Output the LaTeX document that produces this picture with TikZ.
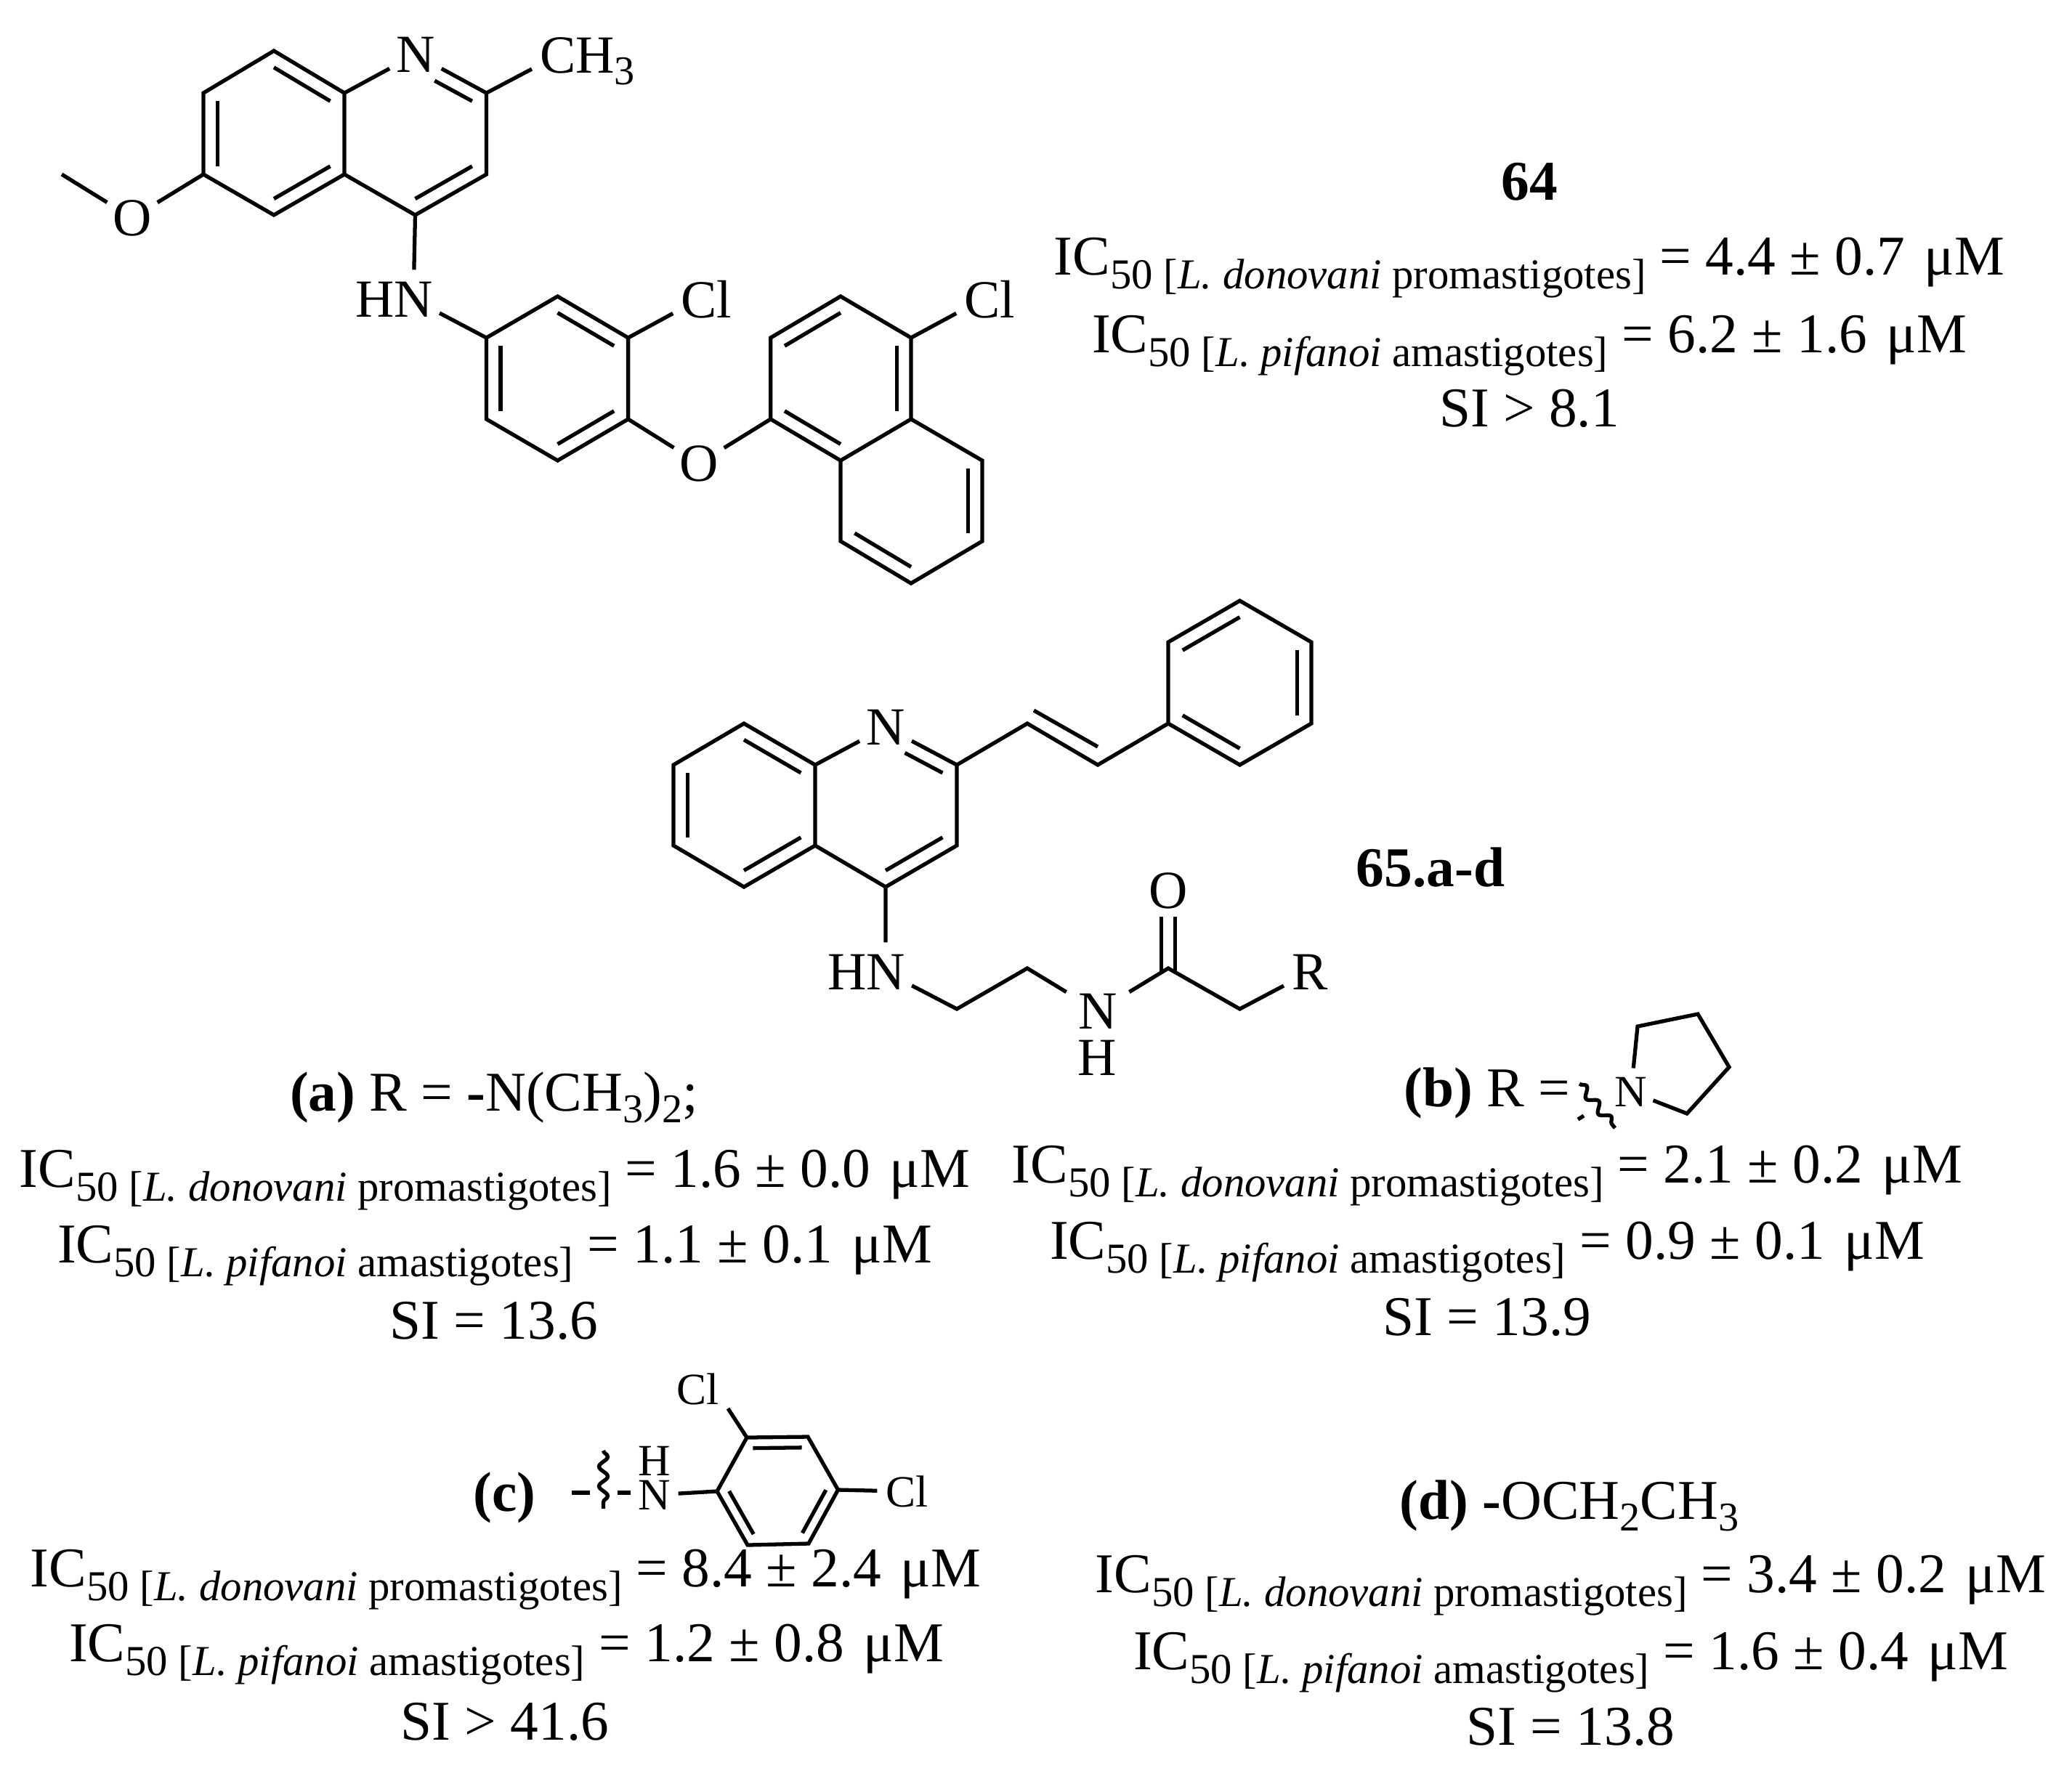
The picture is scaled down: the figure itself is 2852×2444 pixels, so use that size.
\documentclass[tikz,border=0pt]{standalone}
\usepackage{fontspec}
\setmainfont{Liberation Serif}
\usetikzlibrary{calc,decorations.pathmorphing}

\newcommand{\lo}[1]{\raisebox{-0.16cm}{\fontsize{16}{16}\selectfont #1}}
\newcommand{\sbt}[1]{\raisebox{-0.19cm}{\fontsize{16.7}{17}\selectfont #1}}
\newcommand{\don}{IC\sbt{50 [\textit{L. donovani} promastigotes]}}
\newcommand{\pif}{IC\sbt{50 [\textit{L. pifanoi} amastigotes]}}
\newcommand{\um}{\ \hspace{0.07cm}μM}
\newcommand{\innerbond}[4][]{\draw[bond,#1] ($(#2)!0.2!(#4)$) -- ($(#3)!0.2!(#4)$);}

\tikzset{
    bond/.style={line width=1.5pt},
    wavy/.style={line width=1.5pt,decorate,decoration={snake,segment length=0.27cm,amplitude=0.06cm}},
    atom/.style={circle,inner sep=0pt,minimum size=0.8cm,font=\fontsize{21}{21}\selectfont},
    smallatom/.style={circle,inner sep=0pt,minimum size=0.64cm,font=\fontsize{17.5}{18}\selectfont},
    val/.style={inner sep=0pt,anchor=base,font=\fontsize{22}{26}\selectfont},
}

\begin{document}
\begin{tikzpicture}[x=0.01cm,y=-0.01cm]
    \useasboundingbox (0,0) rectangle (2852,2444);

    % compound 64
    \coordinate (a1) at (377,70);
    \coordinate (a2) at (474,128);
    \coordinate (a3) at (474,240);
    \coordinate (a4) at (377,296);
    \coordinate (a5) at (280,240);
    \coordinate (a6) at (280,128);
    \coordinate (ca) at (377,184);
    \coordinate (b2) at (669.5,128);
    \coordinate (b3) at (669.5,240);
    \coordinate (b4) at (571.5,296);
    \coordinate (cb) at (571.5,184);
    \coordinate (me) at (85,240);
    \coordinate (c1) at (669.5,465);
    \coordinate (c2) at (767.5,408);
    \coordinate (c3) at (864.6,465);
    \coordinate (c4) at (864.6,577);
    \coordinate (c5) at (767.5,634);
    \coordinate (c6) at (669.5,577);
    \coordinate (cc) at (767.5,521);
    \coordinate (d1) at (1060.7,577);
    \coordinate (d2) at (1060.7,465);
    \coordinate (d3) at (1157,408);
    \coordinate (d4) at (1254,465);
    \coordinate (d5) at (1254,577);
    \coordinate (d6) at (1157,634);
    \coordinate (cd) at (1157,521);
    \coordinate (e1) at (1352,634);
    \coordinate (e2) at (1352,745);
    \coordinate (e3) at (1254,803);
    \coordinate (e4) at (1157,745);
    \coordinate (ce) at (1254,690);

    \node[atom] (n1) at (572,75) {N};
    \node[atom] (ch3) at (768,76) {C\rlap{\smash{H\lo{3}}}};
    \node[atom] (o1) at (182,300) {O};
    \node[atom] (n2) at (569,412) {\llap{H}N};
    \node[atom] (cl1) at (962,412) {C\rlap{l}};
    \node[atom] (o2) at (962,638) {O};
    \node[atom] (cl2) at (1352,412) {C\rlap{l}};

    \draw[bond] (a2) -- (a1) -- (a6) -- (a5) -- (a4) -- (a3) -- cycle;
    \draw[bond] (a2) -- (n1);
    \draw[bond] (a3) -- (b4) -- (b3) -- (b2) -- (n1);
    \draw[bond] (b2) -- (ch3);
    \draw[bond] (a5) -- (o1) -- (me);
    \draw[bond] (b4) -- (n2) -- (c1);
    \draw[bond] (c1) -- (c2) -- (c3) -- (c4) -- (c5) -- (c6) -- cycle;
    \draw[bond] (c3) -- (cl1);
    \draw[bond] (c4) -- (o2) -- (d1);
    \draw[bond] (d1) -- (d2) -- (d3) -- (d4) -- (d5) -- (d6) -- cycle;
    \draw[bond] (d4) -- (cl2);
    \draw[bond] (d5) -- (e1) -- (e2) -- (e3) -- (e4) -- (d6);
    \innerbond{a1}{a2}{ca}
    \innerbond{a5}{a6}{ca}
    \innerbond{a3}{a4}{ca}
    \innerbond{b3}{b4}{cb}
    \innerbond[shorten >=0.3cm]{b2}{n1}{cb}
    \innerbond{c2}{c3}{cc}
    \innerbond{c1}{c6}{cc}
    \innerbond{c4}{c5}{cc}
    \innerbond{d2}{d3}{cd}
    \innerbond{d4}{d5}{cd}
    \innerbond{d1}{d6}{cd}
    \innerbond{e1}{e2}{ce}
    \innerbond{e3}{e4}{ce}

    \node[val] (t64) at (2105,275) {\textbf{64}};
    \node[val] (t64a) at (2105,378) {\don{} = 4.4 ± 0.7\um};
    \node[val] (t64b) at (2105,485) {\pif{} = 6.2 ± 1.6\um};
    \node[val] (t64c) at (2105,587) {SI > 8.1};

    % compound 65
    \coordinate (f1) at (1024,996);
    \coordinate (f2) at (1122,1053);
    \coordinate (f3) at (1122,1164);
    \coordinate (f4) at (1024,1221);
    \coordinate (f5) at (927,1164);
    \coordinate (f6) at (927,1053);
    \coordinate (cf) at (1024,1108);
    \coordinate (g2) at (1317,1053);
    \coordinate (g3) at (1317,1164);
    \coordinate (g4) at (1219,1221);
    \coordinate (cg) at (1219,1108);
    \coordinate (v1) at (1414,996);
    \coordinate (v2) at (1511,1053);
    \coordinate (p1) at (1608,996);
    \coordinate (p2) at (1608,884);
    \coordinate (p3) at (1706.5,827);
    \coordinate (p4) at (1805,884);
    \coordinate (p5) at (1805,996);
    \coordinate (p6) at (1706.5,1053);
    \coordinate (cp) at (1706.5,940);
    \coordinate (k1) at (1317,1389);
    \coordinate (k2) at (1414,1333);
    \coordinate (k3) at (1608,1333);
    \coordinate (k4) at (1706.5,1389);

    \node[atom] (n3) at (1219,1001) {N};
    \node[atom] (n4) at (1219,1338) {\llap{H}N};
    \node[atom,minimum size=1cm] (n5) at (1511,1392) {N};
    \node[atom] (h5) at (1510,1456) {H};
    \node[atom] (o3) at (1608,1226) {O};
    \node[atom] (r1) at (1803,1338) {R};

    \draw[bond] (f2) -- (f1) -- (f6) -- (f5) -- (f4) -- (f3) -- cycle;
    \draw[bond] (f2) -- (n3);
    \draw[bond] (f3) -- (g4) -- (g3) -- (g2) -- (n3);
    \draw[bond] (g2) -- (v1) -- (v2) -- (p1);
    \draw[bond] (p1) -- (p2) -- (p3) -- (p4) -- (p5) -- (p6) -- cycle;
    \draw[bond] (g4) -- (n4) -- (k1) -- (k2) -- (n5) -- (k3) -- (k4) -- (r1);
    \draw[bond] ($(k3)+(-9.5,4)$) -- ($(o3)+(-9.5,36)$);
    \draw[bond] ($(k3)+(9.5,4)$) -- ($(o3)+(9.5,36)$);
    \draw[bond] ($(v1)+(9,-18)$) -- ($(v2)+(0,-25)$);
    \innerbond{f1}{f2}{cf}
    \innerbond{f5}{f6}{cf}
    \innerbond{f3}{f4}{cf}
    \innerbond{g3}{g4}{cg}
    \innerbond[shorten >=0.3cm]{g2}{n3}{cg}
    \innerbond{p1}{p6}{cp}
    \innerbond{p2}{p3}{cp}
    \innerbond{p4}{p5}{cp}

    \node[val] (t65) at (1969,1220) {\textbf{65.a-d}};

    % (a)
    \node[val] (ha) at (680,1529) {\textbf{(a)} R = \textbf{-}N(CH\lo{3})\lo{2};};
    \node[val] (ta1) at (681,1634) {\don{} = 1.6 ± 0.0\um};
    \node[val] (ta2) at (681,1738) {\pif{} = 1.1 ± 0.1\um};
    \node[val] (ta3) at (680,1843) {SI = 13.6};

    % (b)
    \node[val,anchor=base west] (hb) at (1932,1523) {\textbf{(b)} R =};
    \node[smallatom] (n6) at (2245,1503) {N};
    \coordinate (q1) at (2254,1413);
    \coordinate (q2) at (2337,1396);
    \coordinate (q3) at (2380,1469);
    \coordinate (q4) at (2322,1533);
    \coordinate (wb1) at (2174,1492);
    \coordinate (wb2) at (2223,1553);
    \draw[bond] (n6) -- (q1) -- (q2) -- (q3) -- (q4) -- (n6);
    \draw[wavy] (wb1) -- (wb2);
    \draw[bond] (2172,1541) -- (2180,1536);
    \node[val] (tb1) at (2047,1628) {\don{} = 2.1 ± 0.2\um};
    \node[val] (tb2) at (2047,1733) {\pif{} = 0.9 ± 0.1\um};
    \node[val] (tb3) at (2047,1838) {SI = 13.9};

    % (c)
    \node[val,anchor=base west] (hc) at (651,2080) {\textbf{(c)}};
    \node[smallatom] (n7) at (901,2058) {N};
    \node[smallatom] (h7) at (901,2011) {H};
    \node[smallatom] (cl3) at (961,1912) {Cl};
    \node[smallatom] (cl4) at (1240,2053) {C\rlap{l}};
    \coordinate (s1) at (987,2053);
    \coordinate (s2) at (1028,1979);
    \coordinate (s3) at (1112,1978);
    \coordinate (s4) at (1153.5,2051);
    \coordinate (s5) at (1113,2125);
    \coordinate (s6) at (1029,2127);
    \coordinate (cs) at (1070,2052);
    \coordinate (cle) at (1002,1939);
    \coordinate (wc1) at (830.5,1997);
    \coordinate (wc2) at (830.5,2077);
    \draw[bond] (s1) -- (s2) -- (s3) -- (s4) -- (s5) -- (s6) -- cycle;
    \draw[bond] (n7) -- (s1);
    \draw[bond] (s2) -- (cle);
    \draw[bond] (s4) -- (cl4);
    \draw[wavy] (wc1) -- (wc2);
    \draw[bond] (787,2055) -- (812,2055);
    \draw[bond] (850,2055) -- (868,2055);
    \innerbond{s2}{s3}{cs}
    \innerbond{s1}{s6}{cs}
    \innerbond{s4}{s5}{cs}
    \node[val] (tc1) at (696,2184) {\don{} = 8.4 ± 2.4\um};
    \node[val] (tc2) at (697,2287) {\pif{} = 1.2 ± 0.8\um};
    \node[val] (tc3) at (695,2395) {SI > 41.6};

    % (d)
    \node[val] (hd) at (2160,2091) {\textbf{(d) -}OCH\lo{2}CH\lo{3}};
    \node[val] (td1) at (2162,2192) {\don{} = 3.4 ± 0.2\um};
    \node[val] (td2) at (2162,2298) {\pif{} = 1.6 ± 0.4\um};
    \node[val] (td3) at (2162,2402) {SI = 13.8};

\end{tikzpicture}
\end{document}
